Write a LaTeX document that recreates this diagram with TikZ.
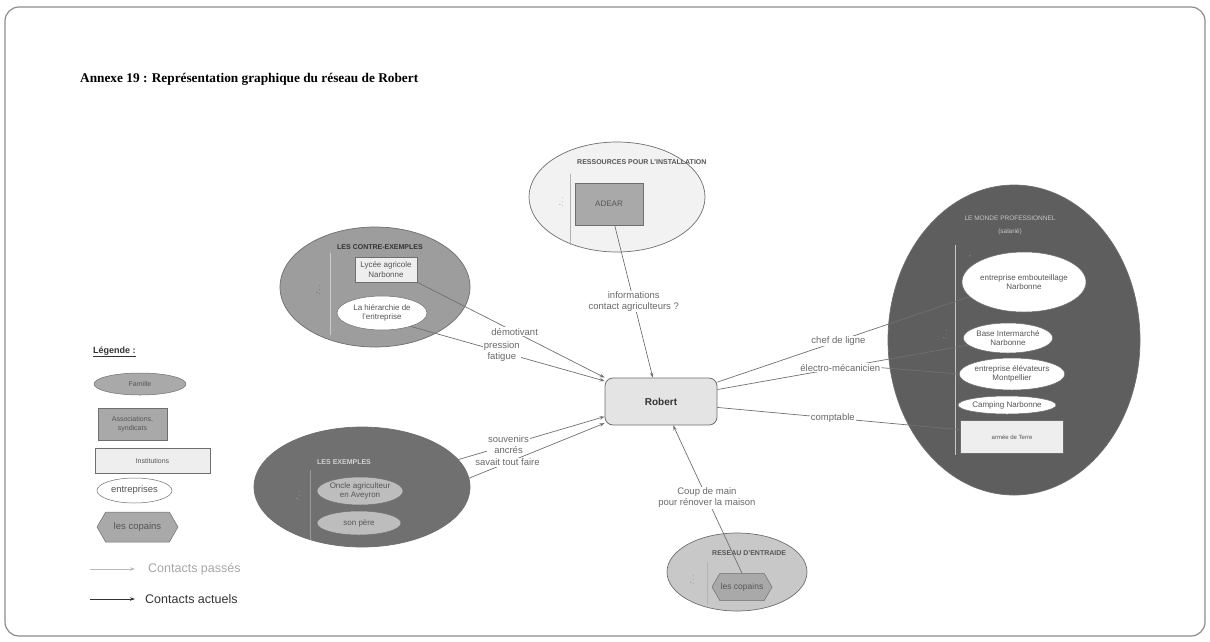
\documentclass[tikz,border=0pt]{standalone}
\usepackage{fontspec}
\setmainfont{Liberation Serif}
\setsansfont{Liberation Sans}
\usepackage{tikz}
\usetikzlibrary{arrows.meta,calc,shapes.geometric,shapes.symbols,positioning}
\definecolor{framegray}{HTML}{8C8C8C}
\definecolor{edgegray}{HTML}{6E6E6E}
\definecolor{txtgray}{HTML}{555555}
\definecolor{txtdark}{HTML}{333333}
\definecolor{paleA}{HTML}{F2F2F2}
\definecolor{paleB}{HTML}{EEEEEE}
\definecolor{paleC}{HTML}{E4E4E4}
\definecolor{grayB}{HTML}{A9A9A9}
\definecolor{grayM}{HTML}{9D9D9D}
\definecolor{grayD}{HTML}{707070}
\definecolor{grayL}{HTML}{C8C8C8}
\definecolor{grayX}{HTML}{5E5E5E}
\definecolor{grayO}{HTML}{BDBDBD}
\definecolor{linkgray}{HTML}{707070}
\definecolor{lblgray}{HTML}{6A6A6A}

\begin{document}
\begin{tikzpicture}[x=1pt,y=-1pt,
  grp/.style={ellipse,draw=edgegray,line width=.7pt,inner sep=0pt},
  topic/.style={font=\sffamily\fontsize{8}{9.4}\selectfont,text=txtgray,align=center,draw=edgegray,line width=.5pt,inner sep=0pt},
  oval/.style={topic,ellipse},
  box/.style={topic,rectangle},
  hexa/.style={topic,signal,signal to=west and east,signal pointer angle=120},
  grptitle/.style={font=\sffamily\bfseries\fontsize{7}{8}\selectfont,text=#1,inner sep=0pt,anchor=west},
  grptitle/.default=txtgray,
  foldmark/.style={font=\sffamily\fontsize{5}{5}\selectfont,text=#1,inner sep=0pt},
  foldmark/.default=txtgray,
  bar/.style={draw=#1,line width=.5pt},
  bar/.default=gray!60,
  link/.style={draw=linkgray,line width=.7pt,-{Stealth[length=5pt,width=3.5pt]}},
  tie/.style={draw=linkgray,line width=.7pt},
  lbl/.style={font=\sffamily\fontsize{9.5}{11}\selectfont,text=lblgray,fill=white,inner sep=1pt,align=center}]
\useasboundingbox (0,0) rectangle (1210,641);
\draw[framegray,line width=1.2pt,rounded corners=14pt] (5,7) rectangle (1205,636);
\node[font=\bfseries\fontsize{13.3}{15}\selectfont,anchor=west,inner sep=0pt] (titre) at (80,79)
  {Annexe 19 : Représentation graphique du réseau de Robert};

% ressources
\node[grp,fill=paleA,minimum width=176pt,minimum height=110pt] (install) at (617,197) {};
\node[grptitle] (installT) at (577,162) {RESSOURCES POUR L'INSTALLATION};
\draw[bar] (570,174) -- (570,245);
\node[foldmark] at (561,199) {-\,$\vdots$};
\node[box,fill=grayB,minimum width=68pt,minimum height=42pt] (adear) at (609,204) {ADEAR};

% contre-exemples
\node[grp,fill=grayM,minimum width=190pt,minimum height=120pt] (contre) at (375,287) {};
\node[grptitle=txtdark] (contreT) at (337,247) {LES CONTRE-EXEMPLES};
\draw[bar=gray!40] (330,253) -- (330,335);
\node[foldmark=txtdark] at (318,287) {-\,$\vdots$};
\node[box,fill=paleB,minimum width=62pt,minimum height=25pt] (lycee) at (386,269.5) {Lycée agricole\\Narbonne};
\node[oval,fill=white,minimum width=90pt,minimum height=34pt] (hier) at (382,313) {La hiérarchie de\\l'entreprise};

% exemples
\node[grp,fill=grayD,minimum width=216pt,minimum height=120pt] (exemples) at (362,487) {};
\node[grptitle=gray!35] (exemplesT) at (317,462) {LES EXEMPLES};
\draw[bar=gray!80] (310,470) -- (310,540);
\node[foldmark=gray!35] at (298,493) {-\,$\vdots$};
\node[oval,fill=grayO,minimum width=86pt,minimum height=28pt] (oncle) at (360,491) {Oncle agriculteur\\en Aveyron};
\node[oval,fill=grayO,minimum width=84pt,minimum height=24pt] (pere) at (359,523) {son père};

% robert
\node[font=\sffamily\bfseries\fontsize{10}{12}\selectfont,text=txtdark,draw=edgegray,fill=paleC,
  rounded corners=8pt,minimum width=112pt,minimum height=47pt,line width=.8pt] (robert) at (661,401.5) {Robert};

% entraide
\node[grp,fill=grayL,minimum width=140pt,minimum height=78pt] (entraide) at (737,572) {};
\node[grptitle] (entraideT) at (712,553) {RESEAU D'ENTRAIDE};
\draw[bar] (707,562) -- (707,605);
\node[foldmark] at (692,577) {-\,$\vdots$};
\node[hexa,fill=grayB,minimum width=60pt,minimum height=27pt,font=\sffamily\fontsize{8.5}{10}\selectfont] (copains) at (742,587) {les copains};

% professionnel
\node[grp,fill=grayX,minimum width=252pt,minimum height=310pt] (pro) at (1014,340) {};
\node[font=\sffamily\fontsize{6.5}{13}\selectfont,text=gray!45,align=center,inner sep=0pt] (proT) at (1010,225)
  {LE MONDE PROFESSIONNEL\\(salarié)};
\draw[bar=gray!45] (955,245) -- (955,455);
\node[foldmark=gray!45] at (970,257) {-};
\node[foldmark=gray!45] at (945,332) {-\,$\vdots$};
\node[oval,fill=white,minimum width=124pt,minimum height=60pt] (embout) at (1024,282) {entreprise embouteillage\\Narbonne};
\node[oval,fill=white,minimum width=86pt,minimum height=30pt] (inter) at (1008,338) {Base Intermarché\\Narbonne};
\node[oval,fill=white,minimum width=100pt,minimum height=32pt] (elev) at (1012,374) {entreprise élévateurs\\Montpellier};
\node[oval,fill=white,minimum width=94pt,minimum height=18pt] (camping) at (1007,405) {Camping Narbonne};
\node[box,fill=paleB,minimum width=103pt,minimum height=33pt,font=\sffamily\fontsize{6}{7}\selectfont] (armee) at (1012,437) {armée de Terre};

% liens
\draw[link] (adear.-75) -- node[lbl]{informations\\contact agriculteurs ?} (robert.109);
\draw[link] (lycee.south east) -- node[lbl,pos=.52]{démotivant} (robert.north west);
\draw[link] (hier.-25) -- node[lbl,pos=.47]{pression\\fatigue} (robert.160);
\coordinate (ex1) at (433,467);
\coordinate (ex2) at (440,490);
\draw[link] (ex1) -- node[lbl,pos=.44]{souvenirs\\ancrés} (robert.195);
\draw[link] (ex2) -- node[lbl,pos=.41]{savait tout faire} (robert.201);
\draw[link] (copains.north) -- node[lbl,pos=.51]{Coup de main\\pour rénover la maison} (robert.-63);
\draw[tie] (robert.19) -- node[lbl,pos=.48]{chef de ligne} (embout.195);
\draw[tie] (robert.12) -- node[lbl,pos=.49] (electro) {électro-mécanicien} (inter.190);
\draw[tie] (electro.east) -- (elev.west);
\draw[tie] (robert.-6) -- node[lbl,pos=.475]{comptable} (armee.172);

% legende
\node[font=\sffamily\bfseries\fontsize{9}{11}\selectfont,anchor=west,inner sep=0pt,text=txtdark] (legende) at (93,352) {\underline{Légende :}};
\node[oval,fill=grayB,minimum width=92pt,minimum height=22pt,font=\sffamily\fontsize{7}{8}\selectfont] (lfam) at (140,384) {Famille};
\node[box,fill=grayB,minimum width=69pt,minimum height=32pt,font=\sffamily\fontsize{7}{8.5}\selectfont] (lasso) at (132.5,424) {Associations,\\syndicats};
\node[box,fill=paleB,minimum width=115pt,minimum height=25pt,font=\sffamily\fontsize{7}{8}\selectfont] (linst) at (152.5,460.5) {Institutions};
\node[oval,fill=white,minimum width=75pt,minimum height=25pt,font=\sffamily\fontsize{9.5}{11}\selectfont] (lent) at (134.5,490.5) {entreprises};
\node[hexa,fill=grayB,minimum width=81pt,minimum height=30pt,font=\sffamily\fontsize{9.5}{11}\selectfont] (lcop) at (137.5,527) {les copains};
\node[font=\sffamily\fontsize{12.5}{14}\selectfont,text=gray!70,anchor=west,inner sep=0pt] (lpass) at (148,569) {Contacts passés};
\node[font=\sffamily\fontsize{12.5}{14}\selectfont,text=txtdark,anchor=west,inner sep=0pt] (lact) at (145,599) {Contacts actuels};
\coordinate (lpa) at (90,569);
\coordinate (lac) at (90,599);
\draw[link,draw=gray!55] (lpa) -- ([xshift=-13pt]lpass.west);
\draw[link,draw=txtdark] (lac) -- ([xshift=-10pt]lact.west);
\end{tikzpicture}
\end{document}
